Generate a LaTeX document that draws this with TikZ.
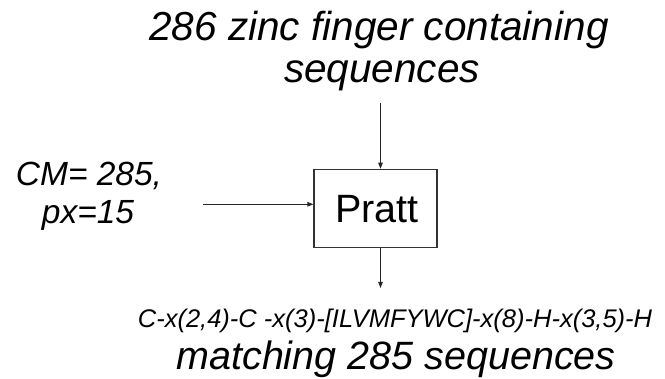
\documentclass[tikz,border=0pt]{standalone}
\usepackage{fontspec}
\setmainfont{Liberation Sans}
\usetikzlibrary{arrows.meta}
\begin{document}
\begin{tikzpicture}[x=1pt,y=-1pt,
  txt/.style={inner sep=0pt, anchor=base, font=\itshape},
  arr/.style={line width=0.9pt, draw=black!85, -{Triangle[length=6pt,width=4.5pt]}},
  procbox/.style={draw=black!80, line width=1.2pt, minimum width=123pt, minimum height=78pt, inner sep=0pt}]
\useasboundingbox[fill=white] (0,0) rectangle (665,379);
\node[txt, font=\fontsize{40.5}{43}\selectfont\itshape] (title1) at (379,41) {286 zinc finger containing};
\node[txt, font=\fontsize{40.5}{43}\selectfont\itshape] (title2) at (382,83) {sequences};
\node[procbox] (pratt) at (375.5,208.3) {};
\node[inner sep=0pt, anchor=base, font=\fontsize{39.5}{40}\selectfont] (prattlbl) at (377,223) {Pratt};
\node[txt, font=\fontsize{33.5}{34}\selectfont\itshape] (cm1) at (89,186) {CM= 285,};
\node[txt, font=\fontsize{33.5}{34}\selectfont\itshape] (cm2) at (88,224) {px=15};
\node[txt, font=\fontsize{25.5}{27}\selectfont\itshape] (pattern) at (395,328) {C-x(2,4)-C -x(3)-[ILVMFYWC]-x(8)-H-x(3,5)-H};
\node[txt, font=\fontsize{39.5}{43}\selectfont\itshape] (match) at (396,369.5) {matching 285 sequences};
\coordinate (tin) at (380.5,103);
\coordinate (lin) at (203,204.3);
\coordinate (bout) at (380.5,288);
\draw[arr] (tin) -- (tin |- pratt.north);
\draw[arr] (lin) -- (lin -| pratt.west);
\draw[arr] (bout |- pratt.south) -- (bout);
\end{tikzpicture}
\end{document}
